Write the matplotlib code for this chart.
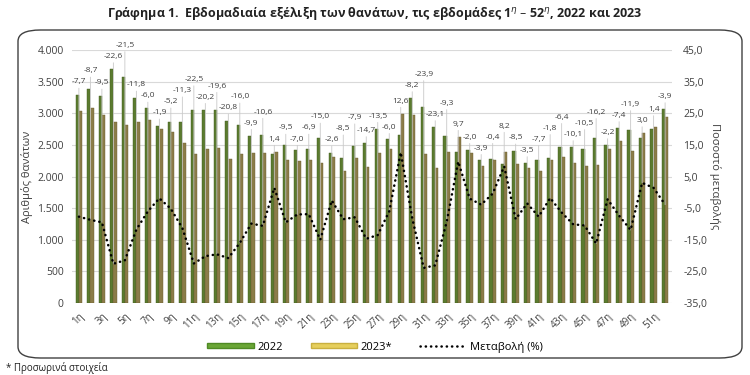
import matplotlib.pyplot as plt
import numpy as np
from matplotlib.patches import FancyBboxPatch, Patch
from matplotlib.lines import Line2D
from matplotlib.ticker import FuncFormatter

plt.rcParams['font.family'] = ['Open Sans', 'DejaVu Sans']

weeks = [f'{i}η' for i in range(1, 53)]
deaths_2022 = [3290, 3376, 3276, 3692, 3576, 3244, 3076, 2802, 2855, 2860,
               3049, 3049, 3049, 2880, 2812, 2639, 2654, 2354, 2496, 2417,
               2433, 2602, 2375, 2286, 2486, 2523, 2749, 2596, 2654, 3234,
               3092, 2776, 2639, 2391, 2417, 2259, 2270, 2200, 2407, 2207,
               2259, 2296, 2460, 2460, 2428, 2602, 2491, 2760, 2733, 2602,
               2744, 3060]
deaths_2023 = [3037, 3083, 2965, 2858, 2807, 2861, 2892, 2749, 2707, 2537,
               2363, 2433, 2451, 2281, 2362, 2378, 2373, 2387, 2259, 2248,
               2265, 2212, 2313, 2092, 2290, 2152, 2378, 2440, 2988, 2969,
               2353, 2135, 2393, 2623, 2369, 2171, 2261, 2380, 2202, 2130,
               2085, 2255, 2303, 2212, 2173, 2181, 2436, 2556, 2408, 2680,
               2782, 2941]
change = [-7.7, -8.7, -9.5, -22.6, -21.5, -11.8, -6.0, -1.9, -5.2, -11.3,
          -22.5, -20.2, -19.6, -20.8, -16.0, -9.9, -10.6, 1.4, -9.5, -7.0,
          -6.9, -15.0, -2.6, -8.5, -7.9, -14.7, -13.5, -6.0, 12.6, -8.2,
          -23.9, -23.1, -9.3, 9.7, -2.0, -3.9, -0.4, 8.2, -8.5, -3.5,
          -7.7, -1.8, -6.4, -10.1, -10.5, -16.2, -2.2, -7.4, -11.9, 3.0,
          1.4, -3.9]

green = '#5b7b2f'
olive = '#8b7c48'

fig = plt.figure(figsize=(7.5, 3.75), dpi=100)

frame = FancyBboxPatch((18 / 750, 1 - 358 / 375), 724 / 750, 328 / 375,
                       boxstyle='round,pad=0,rounding_size=0.03',
                       transform=fig.transFigure, fill=False,
                       edgecolor='#404040', linewidth=1.0)
fig.patches.append(frame)

fig.text(0.5, 1 - 13 / 375,
         'Γράφημα 1.  Εβδομαδιαία εξέλιξη των θανάτων, τις εβδομάδες 1$^{\\eta}$ – 52$^{\\eta}$, 2022 και 2023',
         ha='center', va='center', fontsize=9, fontweight='bold', color='#222222')

ax = fig.add_axes([72 / 750, 1 - 303 / 375, 600 / 750, 253 / 375])
ax2 = ax.twinx()

x = np.arange(len(weeks))
w = 0.28
ax.bar(x - w / 2, deaths_2022, width=w, color=green, edgecolor='#3f5a1c', linewidth=0.3, zorder=2)
ax.bar(x + w / 2, deaths_2023, width=w, color=olive, edgecolor='#6b5e30', linewidth=0.3, zorder=2)

ax.set_ylim(0, 4000)
ax.set_yticks(np.arange(0, 4001, 500))
ax.yaxis.set_major_formatter(FuncFormatter(lambda v, p: f'{int(v):,}'.replace(',', '.')))
ax.grid(axis='y', color='#d9d9d9', linewidth=0.8, zorder=0)
ax.set_axisbelow(True)
ax.set_xlim(-0.6, len(weeks) - 0.4)
ax.set_xticks(x[::2])
ax.set_xticklabels(weeks[::2], rotation=45, ha='right', rotation_mode='anchor', fontsize=7, color='#404040')
ax.tick_params(axis='both', length=0)
ax.tick_params(axis='y', labelsize=7.5, labelcolor='#404040', pad=6)
ax.tick_params(axis='x', pad=6)
for s in ax.spines.values():
    s.set_visible(False)
ax.set_ylabel('Αριθμός θανάτων', fontsize=8, color='#404040', labelpad=3)

ax2.set_ylim(-35, 45)
ax2.set_yticks(np.arange(-35, 46, 10))
ax2.yaxis.set_major_formatter(FuncFormatter(lambda v, p: f'{v:.1f}'.replace('.', ',')))
ax2.tick_params(axis='y', length=0, labelsize=7.5, labelcolor='#404040', pad=8)
for s in ax2.spines.values():
    s.set_visible(False)
ax2.set_ylabel('Ποσοστό μεταβολής', fontsize=8, color='#404040', rotation=-90, labelpad=10)

ax2.plot(x, change, color='black', linewidth=1.8, linestyle=(0, (0.1, 2.0)),
         dash_capstyle='round', zorder=4)

# data labels with leader lines; adjacent labels kept apart vertically
gap = 175
prev = None
for i, c in enumerate(change):
    top = max(deaths_2022[i], deaths_2023[i])
    ly = top + 150
    if prev is not None and abs(ly - prev) < gap:
        if prev - gap >= top + 120:
            ly = prev - gap
        else:
            ly = prev + gap
    prev = ly
    ax2.annotate(f'{c:.1f}'.replace('.', ','), xy=(i, c), xycoords='data',
                 xytext=(i, ly), textcoords=ax.transData,
                 ha='center', va='bottom', fontsize=6, color='#404040',
                 arrowprops=dict(arrowstyle='-', color='#c8c8c8', lw=0.6,
                                 shrinkA=0, shrinkB=0), zorder=3)

handles = [Patch(facecolor='#6aa636', edgecolor='#4f8a25'),
           Patch(facecolor='#e6cf5c', edgecolor='#c9b040'),
           Line2D([], [], color='black', linewidth=1.8, linestyle=(0, (0.1, 2.0)),
                  dash_capstyle='round')]
fig.legend(handles, ['2022', '2023*', 'Μεταβολή (%)'], loc='center',
           bbox_to_anchor=(0.5, 1 - 347 / 375), ncol=3, frameon=False,
           fontsize=8, handlelength=4.2, handleheight=0.35, columnspacing=2.5,
           handletextpad=0.3)

fig.text(6 / 750, 1 - 368 / 375, '* Προσωρινά στοιχεία', fontsize=7, color='#222222',
         ha='left', va='center')

fig.savefig('out.png', dpi=100)
